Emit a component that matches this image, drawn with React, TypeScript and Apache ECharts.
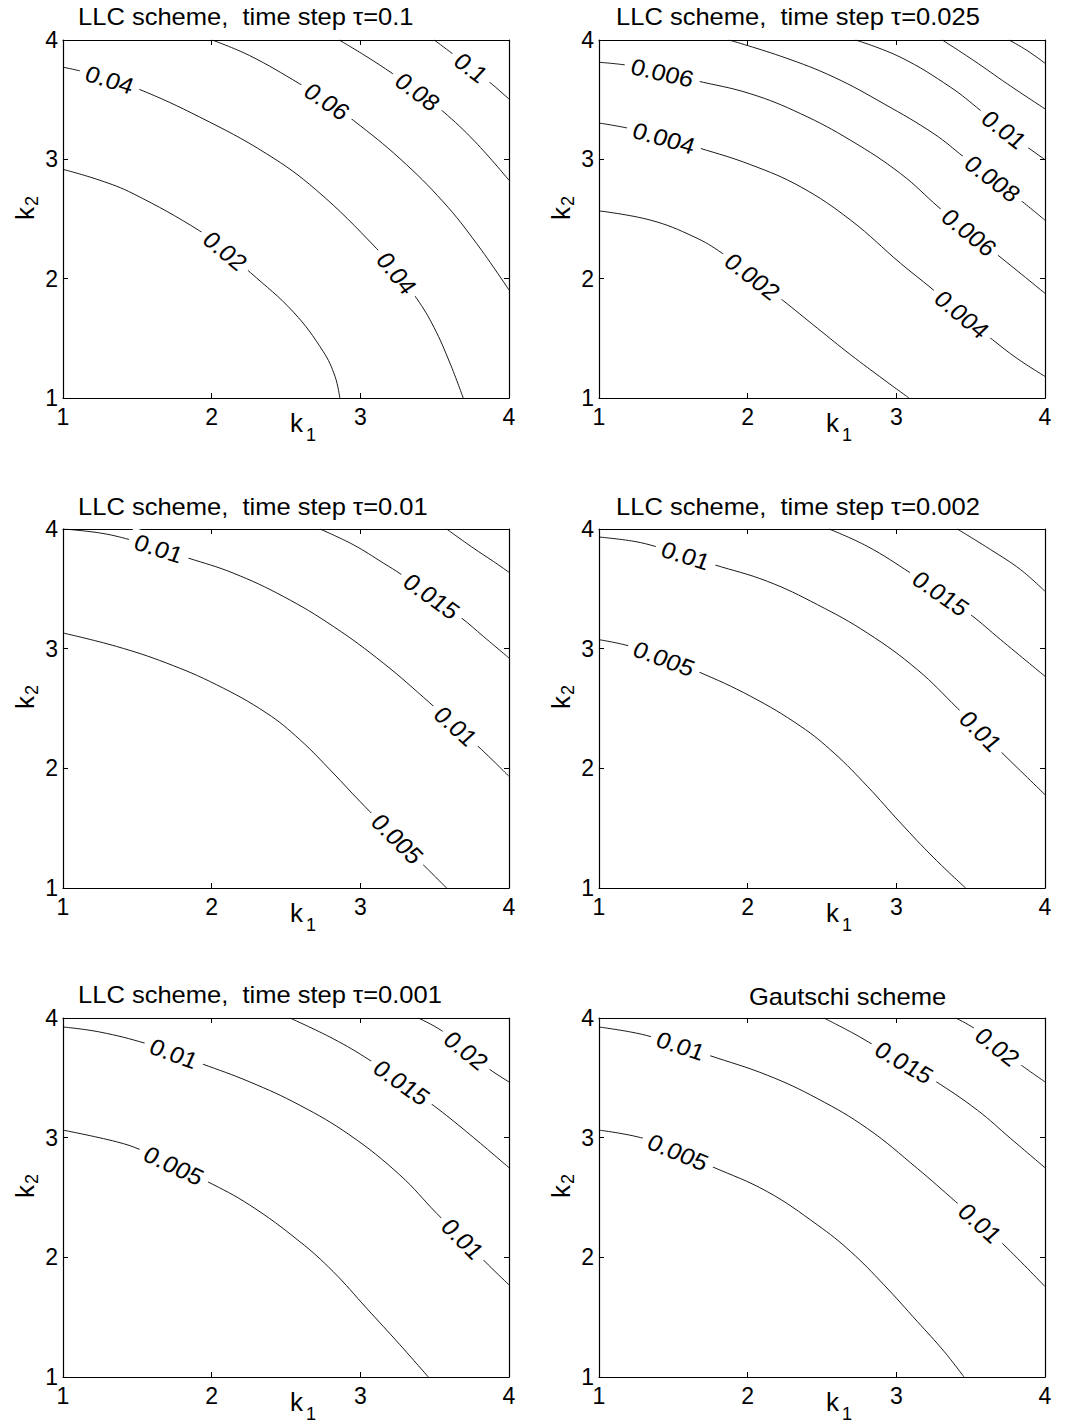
import React, { useEffect, useRef } from "react";
import * as echarts from "echarts";

type Pt = [number, number];
interface Contour {
  level: string;
  pts: Pt[];
  labels: number[];
}

// ---------- texts ----------
const TITLES = [
  "LLC scheme, \u00a0time step τ=0.1",
  "LLC scheme, \u00a0time step τ=0.025",
  "LLC scheme, \u00a0time step τ=0.01",
  "LLC scheme, \u00a0time step τ=0.002",
  "LLC scheme, \u00a0time step τ=0.001",
  "Gautschi scheme",
];
const X_NAME = ["k", "1"];
const Y_NAME = ["k", "2"];

// ---------- axes ----------
const AXIS_MIN = 1;
const AXIS_MAX = 4;
const AXIS_STEP = 1;

// ---------- contour lines (k1, k2) ----------
const PANEL_1: Contour[] = [
  { level: "0.02", pts: [[1.0, 2.916], [1.247, 2.825], [1.471, 2.713], [1.92, 2.4], [2.09, 2.232], [2.26, 2.052], [2.55, 1.72], [2.75, 1.39], [2.83, 1.18], [2.862, 1.0]], labels: [4] },
  { level: "0.04", pts: [[1.0, 3.772], [1.123, 3.738], [1.314, 3.666], [1.505, 3.591], [1.92, 3.354], [2.369, 3.047], [2.705, 2.741], [3.109, 2.253], [3.244, 2.045], [3.378, 1.836], [3.495, 1.593], [3.603, 1.292], [3.692, 1.0]], labels: [2, 8] },
  { level: "0.06", pts: [[2.003, 4.0], [2.256, 3.869], [2.593, 3.632], [2.775, 3.485], [2.955, 3.325], [3.266, 3.006], [3.558, 2.643], [3.782, 2.295], [4.0, 1.905]], labels: [3] },
  { level: "0.08", pts: [[2.858, 4.0], [3.037, 3.865], [3.217, 3.718], [3.385, 3.565], [3.553, 3.405], [3.77, 3.15], [4.0, 2.825]], labels: [3] },
  { level: "0.1", pts: [[3.497, 4.0], [3.62, 3.885], [3.744, 3.766], [3.867, 3.649], [4.0, 3.505]], labels: [2] },
];

const PANEL_2: Contour[] = [
  { level: "0.002", pts: [[1.0, 2.568], [1.348, 2.49], [1.639, 2.351], [1.83, 2.212], [2.031, 2.017], [2.233, 1.822], [2.469, 1.585], [2.693, 1.362], [2.917, 1.153], [3.085, 1.0]], labels: [4] },
  { level: "0.004", pts: [[1.0, 3.304], [1.213, 3.256], [1.437, 3.177], [1.673, 3.095], [2.02, 2.955], [2.357, 2.769], [2.693, 2.49], [3.029, 2.128], [3.24, 1.915], [3.44, 1.7], [3.646, 1.49], [3.814, 1.33], [4.0, 1.181]], labels: [2, 9] },
  { level: "0.006", pts: [[1.0, 3.813], [1.202, 3.786], [1.426, 3.724], [1.65, 3.66], [2.02, 3.549], [2.357, 3.382], [2.693, 3.159], [3.029, 2.88], [3.287, 2.596], [3.489, 2.387], [3.691, 2.189], [4.0, 1.877]], labels: [2, 9] },
  { level: "0.008", pts: [[1.874, 4.0], [2.244, 3.855], [2.581, 3.688], [2.917, 3.465], [3.253, 3.214], [3.455, 3.019], [3.646, 2.838], [3.836, 2.657], [4.0, 2.49]], labels: [6] },
  { level: "0.01", pts: [[2.726, 4.0], [3.029, 3.855], [3.365, 3.604], [3.567, 3.409], [3.724, 3.248], [3.881, 3.103], [4.0, 2.997]], labels: [4] },
  { level: "0.012", pts: [[3.309, 4.0], [3.522, 3.827], [3.747, 3.632], [4.0, 3.423]], labels: [] },
  { level: "0.014", pts: [[3.758, 4.0], [3.881, 3.911], [4.0, 3.805]], labels: [] },
];

const PANEL_3: Contour[] = [
  { level: "0.005", pts: [[1.0, 3.131], [1.359, 3.019], [1.696, 2.88], [2.032, 2.699], [2.369, 2.462], [2.593, 2.24], [2.817, 1.961], [2.997, 1.724], [3.248, 1.409], [3.434, 1.181], [3.58, 1.0]], labels: [8] },
  { level: "0.01", pts: [[1.0, 4.0], [1.247, 3.967], [1.449, 3.911], [1.644, 3.836], [1.841, 3.758], [2.144, 3.632], [2.481, 3.437], [2.817, 3.187], [3.154, 2.88], [3.468, 2.546], [3.641, 2.351], [3.816, 2.156], [4.0, 1.933]], labels: [3, 10] },
  { level: "0.015", pts: [[2.728, 4.0], [2.952, 3.869], [3.154, 3.716], [3.278, 3.618], [3.479, 3.437], [3.681, 3.256], [3.827, 3.103], [4.0, 2.922]], labels: [4] },
  { level: "0.02", pts: [[3.58, 4.0], [3.76, 3.841], [3.894, 3.73], [4.0, 3.638]], labels: [] },
];

const PANEL_4: Contour[] = [
  { level: "0.005", pts: [[1.0, 3.075], [1.213, 3.019], [1.437, 2.916], [1.661, 2.811], [2.02, 2.602], [2.357, 2.351], [2.581, 2.128], [2.805, 1.85], [3.029, 1.543], [3.253, 1.251], [3.466, 1.0]], labels: [2] },
  { level: "0.01", pts: [[1.0, 3.933], [1.235, 3.897], [1.392, 3.85], [1.583, 3.777], [1.774, 3.702], [2.132, 3.563], [2.469, 3.368], [2.805, 3.131], [3.141, 2.825], [3.41, 2.504], [3.567, 2.309], [3.724, 2.114], [4.0, 1.78]], labels: [3, 10] },
  { level: "0.015", pts: [[2.547, 4.0], [2.805, 3.855], [3.096, 3.632], [3.298, 3.46], [3.5, 3.284], [3.702, 3.075], [4.0, 2.769]], labels: [3] },
  { level: "0.02", pts: [[3.41, 4.0], [3.635, 3.827], [3.836, 3.66], [4.0, 3.479]], labels: [] },
];

const PANEL_5: Contour[] = [
  { level: "0.005", pts: [[1.0, 3.063], [1.359, 2.966], [1.527, 2.896], [1.745, 2.765], [1.965, 2.637], [2.256, 2.437], [2.593, 2.131], [2.817, 1.881], [3.042, 1.575], [3.266, 1.27], [3.457, 1.0]], labels: [3] },
  { level: "0.01", pts: [[1.0, 3.925], [1.247, 3.883], [1.561, 3.786], [1.745, 3.702], [1.931, 3.619], [2.256, 3.466], [2.593, 3.271], [2.93, 3.021], [3.266, 2.688], [3.513, 2.368], [3.688, 2.154], [3.861, 1.937], [4.0, 1.77]], labels: [3, 10] },
  { level: "0.015", pts: [[2.526, 4.0], [2.817, 3.827], [3.064, 3.647], [3.277, 3.46], [3.49, 3.271], [3.715, 3.049], [4.0, 2.749]], labels: [3] },
  { level: "0.02", pts: [[3.389, 4.0], [3.547, 3.894], [3.71, 3.727], [3.872, 3.569], [4.0, 3.466]], labels: [2] },
];

const PANEL_6: Contour[] = [
  { level: "0.005", pts: [[1.0, 3.063], [1.303, 2.993], [1.531, 2.877], [1.762, 2.757], [2.132, 2.549], [2.469, 2.271], [2.693, 2.048], [2.917, 1.77], [3.141, 1.464], [3.321, 1.214], [3.455, 1.0]], labels: [2] },
  { level: "0.01", pts: [[1.0, 3.925], [1.213, 3.883], [1.359, 3.841], [1.549, 3.766], [1.74, 3.688], [2.132, 3.522], [2.469, 3.327], [2.805, 3.077], [3.141, 2.743], [3.399, 2.465], [3.563, 2.284], [3.724, 2.104], [4.0, 1.756]], labels: [3, 10] },
  { level: "0.015", pts: [[2.513, 4.0], [2.715, 3.869], [2.85, 3.772], [3.052, 3.627], [3.253, 3.48], [3.545, 3.23], [3.769, 2.993], [4.0, 2.749]], labels: [3] },
  { level: "0.02", pts: [[3.399, 4.0], [3.527, 3.911], [3.679, 3.758], [3.836, 3.61], [4.0, 3.466]], labels: [2] },
];

const PANELS = [PANEL_1, PANEL_2, PANEL_3, PANEL_4, PANEL_5, PANEL_6];

// ---------- layout (pixels) ----------
const GRID_BOXES: [number, number, number, number][] = [
  [63, 40, 446, 358],
  [599, 40, 446, 358],
  [63, 529, 446, 359],
  [599, 529, 446, 359],
  [63, 1018, 446, 359],
  [599, 1018, 446, 359],
];
const TITLE_AT: [number, number][] = [
  [78, 25],
  [616, 25],
  [78, 515],
  [616, 515],
  [78, 1003],
  [749, 1005],
];

const FONT = '"Liberation Sans", Arial, Helvetica, sans-serif';
const STRETCH = 1.11;
const FS = 23;

function makeAxis(i: number, position: string, labels: boolean) {
  const isX = position === "bottom" || position === "top";
  return {
    gridIndex: i,
    type: "value",
    position,
    min: AXIS_MIN,
    max: AXIS_MAX,
    interval: AXIS_STEP,
    axisLine: { show: true, onZero: false, lineStyle: { color: "#000", width: 1.2 } },
    axisTick: { show: true, inside: true, length: 5, lineStyle: { color: "#000", width: 1 } },
    axisLabel: {
      show: labels,
      color: "#000",
      fontSize: FS,
      fontFamily: FONT,
      margin: isX ? 7 : 5,
      showMinLabel: true,
      showMaxLabel: true,
    },
    splitLine: { show: false },
  };
}

function txt(x: number, y: number, text: string, size: number, extra: any = {}) {
  return {
    type: "text",
    x,
    y,
    z: 50,
    silent: true,
    ...extra,
    style: {
      text,
      fontSize: size,
      fontFamily: FONT,
      fill: "#000",
      align: "left",
      verticalAlign: "middle",
      textAlign: "left",
      textVerticalAlign: "middle",
    },
  };
}

export default function App() {
  const ref = useRef<HTMLDivElement>(null);

  useEffect(() => {
    const el = ref.current;
    if (!el) return;
    const chart = echarts.init(el, null, { renderer: "svg" });

    const grid = GRID_BOXES.map(([left, top, width, height]) => ({ left, top, width, height, show: false }));
    const xAxis: any[] = [];
    const yAxis: any[] = [];
    PANELS.forEach((_, i) => {
      xAxis.push(makeAxis(i, "bottom", true));
      xAxis.push(makeAxis(i, "top", false));
      yAxis.push(makeAxis(i, "left", true));
      yAxis.push(makeAxis(i, "right", false));
    });

    const series: any[] = [];
    PANELS.forEach((panel, i) => {
      panel.forEach((c) => {
        series.push({
          type: "line",
          name: c.level,
          xAxisIndex: 2 * i,
          yAxisIndex: 2 * i,
          data: c.pts,
          symbol: "none",
          showSymbol: false,
          smooth: 0.4,
          silent: true,
          z: 2,
          lineStyle: { color: "#000", width: 0.9 },
        });
      });
    });

    chart.setOption({
      animation: false,
      backgroundColor: "#fff",
      grid,
      xAxis,
      yAxis,
      series,
    });

    const elements: any[] = [];
    // titles
    TITLES.forEach((t, i) => {
      const [tx, base] = TITLE_AT[i];
      elements.push(txt(tx, base - 8.3, t, FS, { scaleX: STRETCH }));
    });
    // axis names
    GRID_BOXES.forEach(([left, top, , height]) => {
      const bottom = top + height;
      elements.push(txt(left + 227, bottom + 25, X_NAME[0], 26));
      elements.push(txt(left + 243, bottom + 37, X_NAME[1], 18));
      elements.push(txt(left - 38, top + 180, Y_NAME[0], 26, { rotation: Math.PI / 2 }));
      elements.push(txt(left - 31, top + 166, Y_NAME[1], 18, { rotation: Math.PI / 2 }));
    });
    // contour labels, placed with the chart's own scales
    PANELS.forEach((panel, i) => {
      const finder = { xAxisIndex: 2 * i, yAxisIndex: 2 * i };
      panel.forEach((c) => {
        c.labels.forEach((li) => {
          const p = chart.convertToPixel(finder as any, c.pts[li]) as number[];
          const a = chart.convertToPixel(finder as any, c.pts[li - 1]) as number[];
          const b = chart.convertToPixel(finder as any, c.pts[li + 1]) as number[];
          const theta = Math.atan2(b[1] - a[1], (b[0] - a[0]) / STRETCH);
          elements.push({
            type: "group",
            x: p[0],
            y: p[1],
            scaleX: STRETCH,
            z: 60,
            silent: true,
            children: [
              {
                type: "text",
                rotation: -theta,
                z: 60,
                style: {
                  text: c.level,
                  fontSize: FS,
                  fontFamily: FONT,
                  fill: "#000",
                  align: "center",
                  verticalAlign: "middle",
                  textAlign: "center",
                  textVerticalAlign: "middle",
                  backgroundColor: "#fff",
                  padding: [1, 6],
                },
              },
            ],
          });
        });
      });
    });

    chart.setOption({ graphic: { elements } });

    return () => {
      chart.dispose();
    };
  }, []);

  return (
    <div
      ref={ref}
      style={{ position: "absolute", left: 0, top: 0, width: 1068, height: 1427, background: "#fff" }}
    />
  );
}
